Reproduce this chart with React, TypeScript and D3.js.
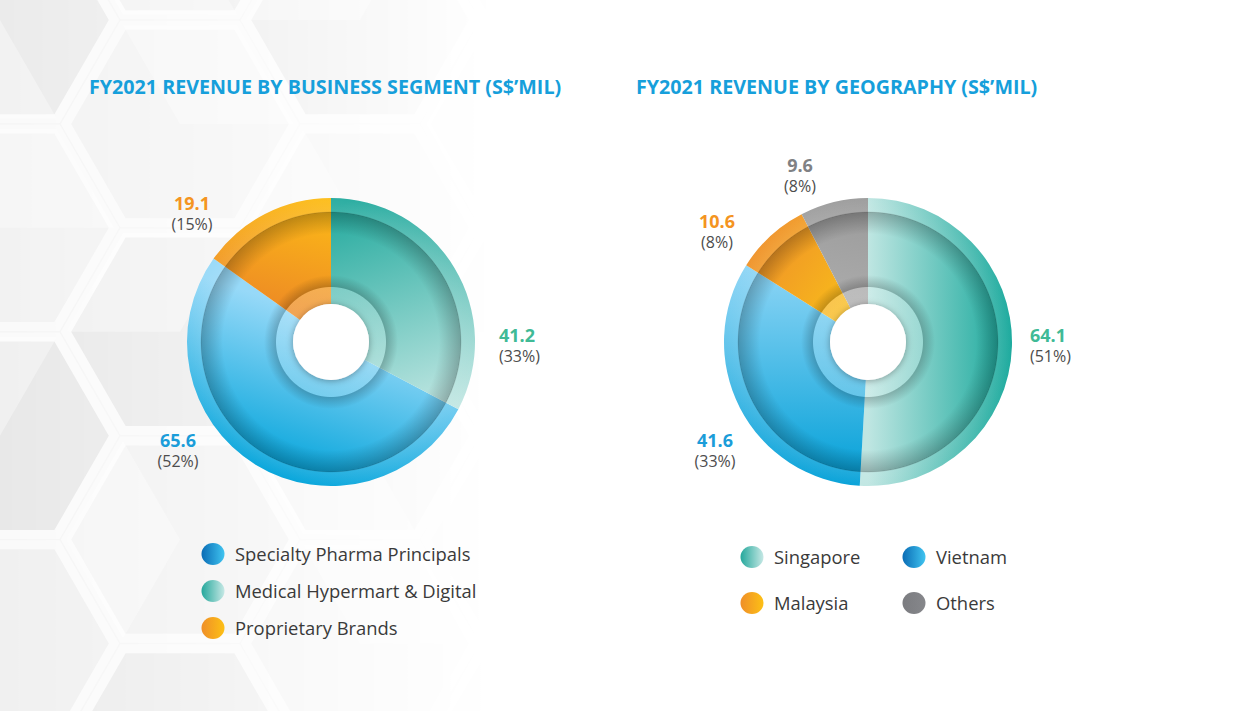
import React from 'react';
import * as d3 from 'd3';

const W = 1240;
const H = 711;

// FY2021 revenue by business segment (S$'mil)
const segCategories = ['Specialty Pharma Principals', 'Medical Hypermart & Digital', 'Proprietary Brands'];
const segValues = [65.6, 41.2, 19.1];
const segPercents = ['52%', '33%', '15%'];
const segPieOrder = ['Medical Hypermart & Digital', 'Specialty Pharma Principals', 'Proprietary Brands'];

// FY2021 revenue by geography (S$'mil)
const geoCategories = ['Singapore', 'Vietnam', 'Malaysia', 'Others'];
const geoValues = [64.1, 41.6, 10.6, 9.6];
const geoPercents = ['51%', '33%', '8%', '8%'];
const geoPieOrder = ['Singapore', 'Vietnam', 'Malaysia', 'Others'];

const titles = ["FY2021 REVENUE BY BUSINESS SEGMENT (S$\u2019MIL)", "FY2021 REVENUE BY GEOGRAPHY (S$\u2019MIL)"];

const R = 144;
const R_HOLE = 38;
const R_RING = 55;
const R_RIM = 130;

const FONT = "'Open Sans', 'Noto Sans', sans-serif";

const BLUE = '#1b9dd9';
const TEAL = '#40ba96';
const ORANGE = '#f49421';
const GREY = '#808184';

// gradient vectors are in units of R relative to the donut centre
type Fill = { v: [number, number, number, number]; stops: [string, string]; label: string; dot: [string, string] };

const segFills: Record<string, Fill> = {
  'Specialty Pharma Principals': { v: [-0.1, -0.2, -0.45, 0.9], stops: ['#97d9f8', '#00a3da'], label: BLUE, dot: ['#0a6cb5', '#40c4f0'] },
  'Medical Hypermart & Digital': { v: [0.2, -1, 0.7, 0.5], stops: ['#24aa9e', '#c2e7e3'], label: TEAL, dot: ['#25a89c', '#c6e8e5'] },
  'Proprietary Brands': { v: [0, -1, -0.2, -0.2], stops: ['#fdbd16', '#ee8c24'], label: ORANGE, dot: ['#ef8f29', '#fdc015'] },
};

const geoFills: Record<string, Fill> = {
  Singapore: { v: [0, 0, 1, 0], stops: ['#bfe6e2', '#14a79a'], label: TEAL, dot: ['#25a89c', '#c6e8e5'] },
  Vietnam: { v: [0, -0.6, 0, 1], stops: ['#95d8f7', '#009fd7'], label: BLUE, dot: ['#0a6cb5', '#40c4f0'] },
  Malaysia: { v: [-0.8, -0.6, -0.2, -0.2], stops: ['#ef9228', '#f8ba1b'], label: ORANGE, dot: ['#ef8f29', '#fdc015'] },
  Others: { v: [0, -1, -0.2, -0.2], stops: ['#9a9a9a', '#adadad'], label: GREY, dot: ['#7b7c80', '#86878b'] },
};

// label placement relative to donut centre
type LabelPos = { dx: number; dy: number; anchor: 'start' | 'middle' };
const segLabelPos: Record<string, LabelPos> = {
  'Proprietary Brands': { dx: -139, dy: -132, anchor: 'middle' },
  'Medical Hypermart & Digital': { dx: 168, dy: 0, anchor: 'start' },
  'Specialty Pharma Principals': { dx: -153, dy: 105, anchor: 'middle' },
};
const geoLabelPos: Record<string, LabelPos> = {
  Others: { dx: -68, dy: -170, anchor: 'middle' },
  Malaysia: { dx: -151, dy: -114, anchor: 'middle' },
  Singapore: { dx: 162, dy: 0, anchor: 'start' },
  Vietnam: { dx: -153, dy: 105, anchor: 'middle' },
};

type Row = { name: string; value: number; pct: string };

function Donut(props: {
  id: string; cx: number; cy: number;
  names: string[]; values: number[]; pcts: string[]; order: string[];
  fills: Record<string, Fill>; labels: Record<string, LabelPos>;
}) {
  const { id, cx, cy, names, values, pcts, order, fills, labels } = props;
  const rows: Row[] = names.map((n, i) => ({ name: n, value: values[i], pct: pcts[i] }));
  const pie = d3.pie<Row>()
    .value(d => d.value)
    .sort((a, b) => order.indexOf(a.name) - order.indexOf(b.name));
  const arcs = pie(rows);
  const arc = d3.arc<d3.PieArcDatum<Row>>().innerRadius(R_HOLE).outerRadius(R);
  const ring = d3.arc<any>().innerRadius(R_HOLE).outerRadius(R).startAngle(0).endAngle(2 * Math.PI);

  return (
    <g transform={`translate(${cx},${cy})`}>
      <defs>
        {arcs.map((a, i) => {
          const f = fills[a.data.name];
          return (
            <linearGradient key={i} id={`${id}-g${i}`} gradientUnits="userSpaceOnUse"
              x1={f.v[0] * R} y1={f.v[1] * R} x2={f.v[2] * R} y2={f.v[3] * R}>
              <stop offset="0" stopColor={f.stops[0]} />
              <stop offset="1" stopColor={f.stops[1]} />
            </linearGradient>
          );
        })}
        <radialGradient id={`${id}-shade`} gradientUnits="userSpaceOnUse" cx={0} cy={0} r={R}>
          <stop offset={R_HOLE / R} stopColor="#fff" stopOpacity={0.22} />
          <stop offset={(R_RING - 0.5) / R} stopColor="#fff" stopOpacity={0.22} />
          <stop offset={(R_RING + 0.5) / R} stopColor="#000" stopOpacity={0.2} />
          <stop offset={(R_RING + 12) / R} stopColor="#000" stopOpacity={0.0} />
          <stop offset={(R_RIM - 22) / R} stopColor="#000" stopOpacity={0.0} />
          <stop offset={(R_RIM - 0.5) / R} stopColor="#000" stopOpacity={0.24} />
          <stop offset={(R_RIM + 0.5) / R} stopColor="#fff" stopOpacity={0.1} />
          <stop offset={1} stopColor="#fff" stopOpacity={0.04} />
        </radialGradient>
        <filter id={`${id}-hole`} x="-50%" y="-50%" width="200%" height="200%">
          <feDropShadow dx="0" dy="1" stdDeviation="3.5" floodColor="#000" floodOpacity="0.35" />
        </filter>
      </defs>
      {arcs.map((a, i) => (
        <path key={i} d={arc(a) || ''} fill={`url(#${id}-g${i})`} />
      ))}
      <path d={ring({}) || ''} fill={`url(#${id}-shade)`} />
      <circle r={R_RIM} fill="none" stroke="#000" strokeOpacity={0.1} strokeWidth={1} />
      <circle r={R_HOLE} fill="#fff" filter={`url(#${id}-hole)`} />
      {arcs.map((a, i) => {
        const p = labels[a.data.name];
        const f = fills[a.data.name];
        return (
          <g key={`l${i}`} fontFamily={FONT} textAnchor={p.anchor}>
            <text x={p.dx} y={p.dy} fontSize={18} fontWeight={700} fill={f.label}>{a.data.value.toFixed(1)}</text>
            <text x={p.dx} y={p.dy + 20} fontSize={16} fill="#4d4d4d">({a.data.pct})</text>
          </g>
        );
      })}
    </g>
  );
}

function Legend(props: { id: string; x: number; y: number; names: string[]; fills: Record<string, Fill>; cols: number; colGap: number; rowGap: number }) {
  const { id, x, y, names, fills, cols, colGap, rowGap } = props;
  return (
    <g>
      <defs>
        {names.map((n, i) => (
          <linearGradient key={i} id={`${id}-d${i}`} x1="0" y1="0" x2="1" y2="0">
            <stop offset="0" stopColor={fills[n].dot[0]} />
            <stop offset="1" stopColor={fills[n].dot[1]} />
          </linearGradient>
        ))}
      </defs>
      {names.map((n, i) => {
        const cx = x + (i % cols) * colGap;
        const cy = y + Math.floor(i / cols) * rowGap;
        return (
          <g key={i}>
            <ellipse cx={cx} cy={cy} rx={11.5} ry={11} fill={`url(#${id}-d${i})`} />
            <text x={cx + 22} y={cy + 6.5} fontFamily={FONT} fontSize={18.4} fill="#3a3a3a">{n}</text>
          </g>
        );
      })}
    </g>
  );
}

function Background() {
  const r = 120;
  const cols = d3.range(-1, 4);
  const rowsIdx = d3.range(-1, 5);
  const hexes: { x: number; y: number; k: number }[] = [];
  cols.forEach(c => rowsIdx.forEach(rw => {
    hexes.push({ x: c * 1.5 * r, y: rw * Math.sqrt(3) * r + (c % 2 ? Math.sqrt(3) / 2 * r : 0) + 20, k: (c * 7 + rw * 3 + 20) % 4 });
  }));
  const hexPts = (x: number, y: number, s: number) =>
    d3.range(6).map(i => [x + s * Math.cos(Math.PI / 3 * i), y + s * Math.sin(Math.PI / 3 * i)]);
  const shades = ['#ebebeb', '#f0f0f0', '#e8e8e8', '#f2f2f2'];
  return (
    <g>
      <defs>
        <linearGradient id="bgfade" x1="0" y1="0" x2="1" y2="0">
          <stop offset="0" stopColor="#fff" stopOpacity={1} />
          <stop offset="0.18" stopColor="#fff" stopOpacity={0.6} />
          <stop offset="0.4" stopColor="#fff" stopOpacity={0} />
        </linearGradient>
        <mask id="bgmask">
          <rect width={W} height={H} fill="url(#bgfade)" />
        </mask>
      </defs>
      <rect width={W} height={H} fill="#fff" />
      <g mask="url(#bgmask)">
        <rect width={W} height={H} fill="#f5f5f5" />
        {hexes.map((h, i) => {
          const pts = hexPts(h.x, h.y, r - 6);
          const facet = [[h.x, h.y], pts[(h.k + 1) % 6], pts[(h.k + 2) % 6], pts[(h.k + 3) % 6]];
          return (
            <g key={i}>
              <polygon points={pts.map(p => p.join(',')).join(' ')} fill={shades[h.k]} stroke="#fafafa" strokeWidth={9} />
              <polygon points={facet.map(p => p.join(',')).join(' ')} fill="#fff" fillOpacity={0.35} />
            </g>
          );
        })}
      </g>
    </g>
  );
}

export default function App() {
  return (
    <svg width={W} height={H} style={{ position: 'absolute', left: 0, top: 0, display: 'block' }}>
      <Background />
      <text x={89} y={94} fontFamily={FONT} fontSize={19.7} fontWeight={700} fill="#169fdb">{titles[0]}</text>
      <text x={636} y={94} fontFamily={FONT} fontSize={19.7} fontWeight={700} fill="#169fdb">{titles[1]}</text>
      <Donut id="seg" cx={331} cy={342} names={segCategories} values={segValues} pcts={segPercents}
        order={segPieOrder} fills={segFills} labels={segLabelPos} />
      <Donut id="geo" cx={868} cy={342} names={geoCategories} values={geoValues} pcts={geoPercents}
        order={geoPieOrder} fills={geoFills} labels={geoLabelPos} />
      <Legend id="segl" x={213} y={554} names={segCategories} fills={segFills} cols={1} colGap={0} rowGap={37} />
      <Legend id="geol" x={752} y={557} names={geoCategories} fills={geoFills} cols={2} colGap={162} rowGap={46} />
    </svg>
  );
}
